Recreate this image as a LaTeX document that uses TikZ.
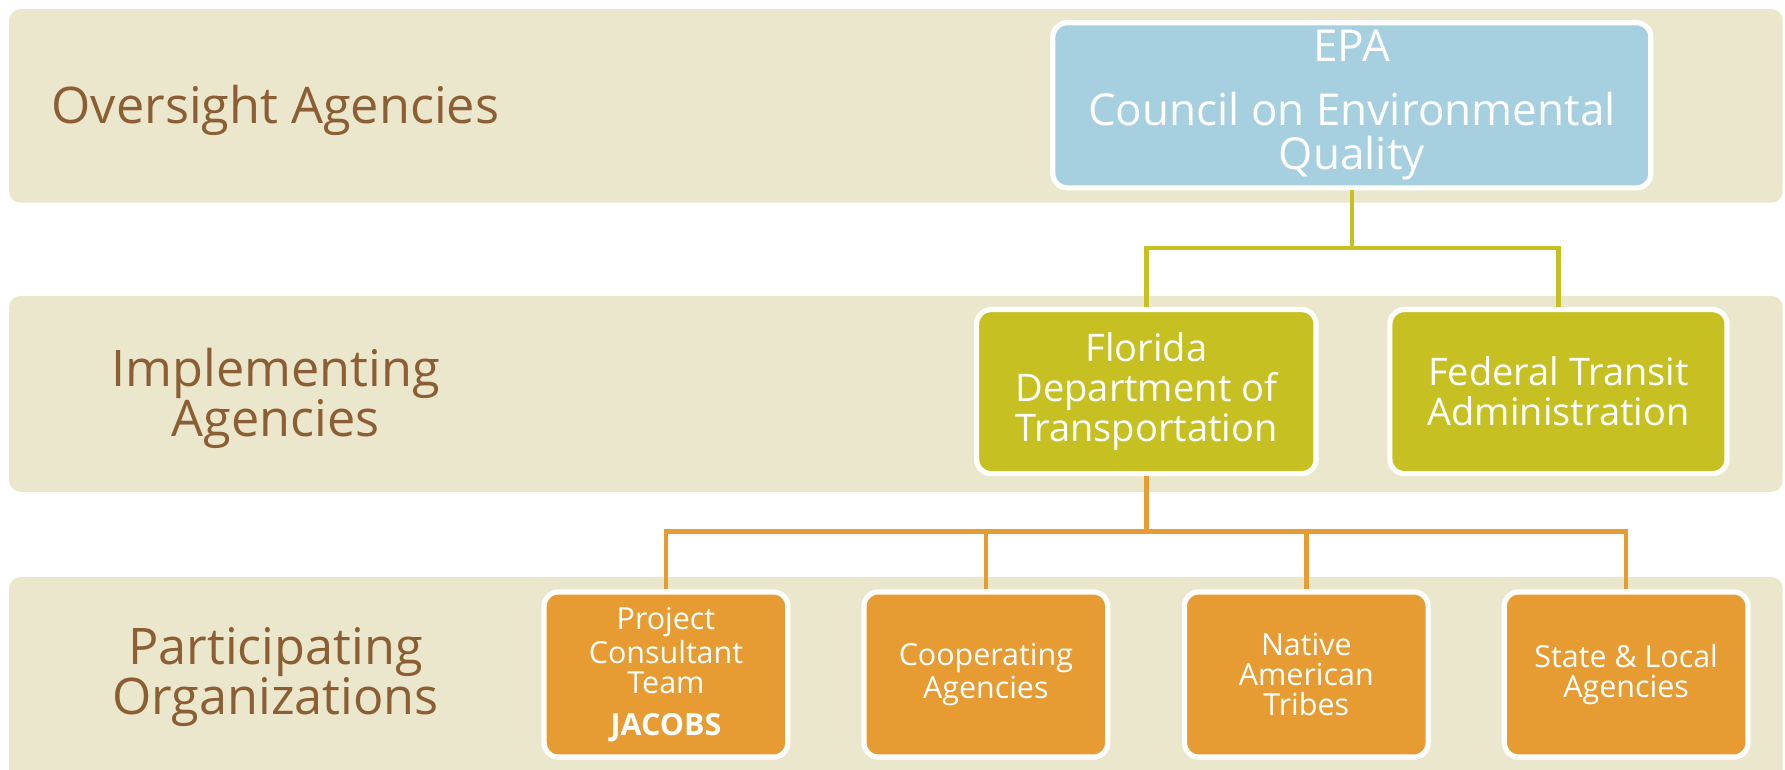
\documentclass[tikz,border=0pt]{standalone}
\usepackage{fontspec}
\setmainfont{Open Sans}
\usetikzlibrary{positioning}

\definecolor{bandfill}{HTML}{EBE7CC}
\definecolor{bandtext}{HTML}{8B5E34}
\definecolor{epablue}{HTML}{A6CFE0}
\definecolor{implgreen}{HTML}{C6C022}
\definecolor{partorange}{HTML}{E69C33}

\tikzset{
  orgbox/.style={draw=white,line width=1.3pt,rounded corners=3.6pt,text=white,align=center,inner sep=0pt},
  bandlabel/.style={text=bandtext,align=center,font=\fontsize{12.6}{12.5}\selectfont},
  link/.style={line width=1.1pt},
}

\NewDocumentCommand{\band}{mmmmm}{%
\fill[bandfill,rounded corners=2.8pt] (8,#2) rectangle (1566,#3);%
\node[bandlabel] (#1) at (242,#4) {#5};%
}

\begin{document}
\begin{tikzpicture}[x=0.01cm,y=-0.01cm]
        \useasboundingbox (0,0) rectangle (1568,676);

        % Bands.
        \band{oversight}{8}{178}{97}{Oversight Agencies}
        \band{implementing}{260}{432}{350}{Implementing\\Agencies}
        \band{participating}{507}{700}{595}{Participating\\Organizations}

        % Oversight.
        \node[orgbox,fill=epablue,minimum width=5.25cm,minimum height=1.45cm,
          font=\fontsize{11}{11}\selectfont] (epa) at (1187.5,92.5)
          {EPA\\[5pt]Council on Environmental\\Quality};

        % Implementing.
        \node[orgbox,fill=implgreen,minimum width=2.98cm,minimum height=1.44cm,
          font=\fontsize{9.5}{10}\selectfont] (fdot) at (1007,344)
          {Florida\\Department of\\Transportation};
        \node[orgbox,fill=implgreen,minimum width=2.96cm,minimum height=1.44cm,
          font=\fontsize{9.5}{10}\selectfont] (fta) at (1369,344)
          {Federal Transit\\Administration};

        % Participating.
        \foreach \nm/\cx/\txt in {pct/585/{Project\\Consultant\\Team\\[3.2pt]\textbf{JACOBS}},
            coop/866/{Cooperating\\Agencies},
            tribes/1147.5/{Native\\American\\Tribes},
            sla/1428.5/{State \& Local\\Agencies}}
          \node[orgbox,fill=partorange,minimum width=2.14cm,minimum height=1.45cm,
            font=\fontsize{7.6}{7.4}\selectfont] (\nm) at (\cx,592.5) {\txt};

        % Green links.
        \coordinate (gjoin) at (epa.south |- 0,218);
        \draw[link,implgreen] (epa.south) -- (gjoin) -| (fdot.north);
        \draw[link,implgreen] (gjoin) -| (fta.north);

        % Orange links.
        \coordinate (ojoin) at (fdot.south |- 0,467);
        \draw[link,partorange] (fdot.south) -- (ojoin);
        \foreach \nm in {pct,coop,tribes,sla}
          \draw[link,partorange] (ojoin) -| (\nm.north);
    \end{tikzpicture}
\end{document}
